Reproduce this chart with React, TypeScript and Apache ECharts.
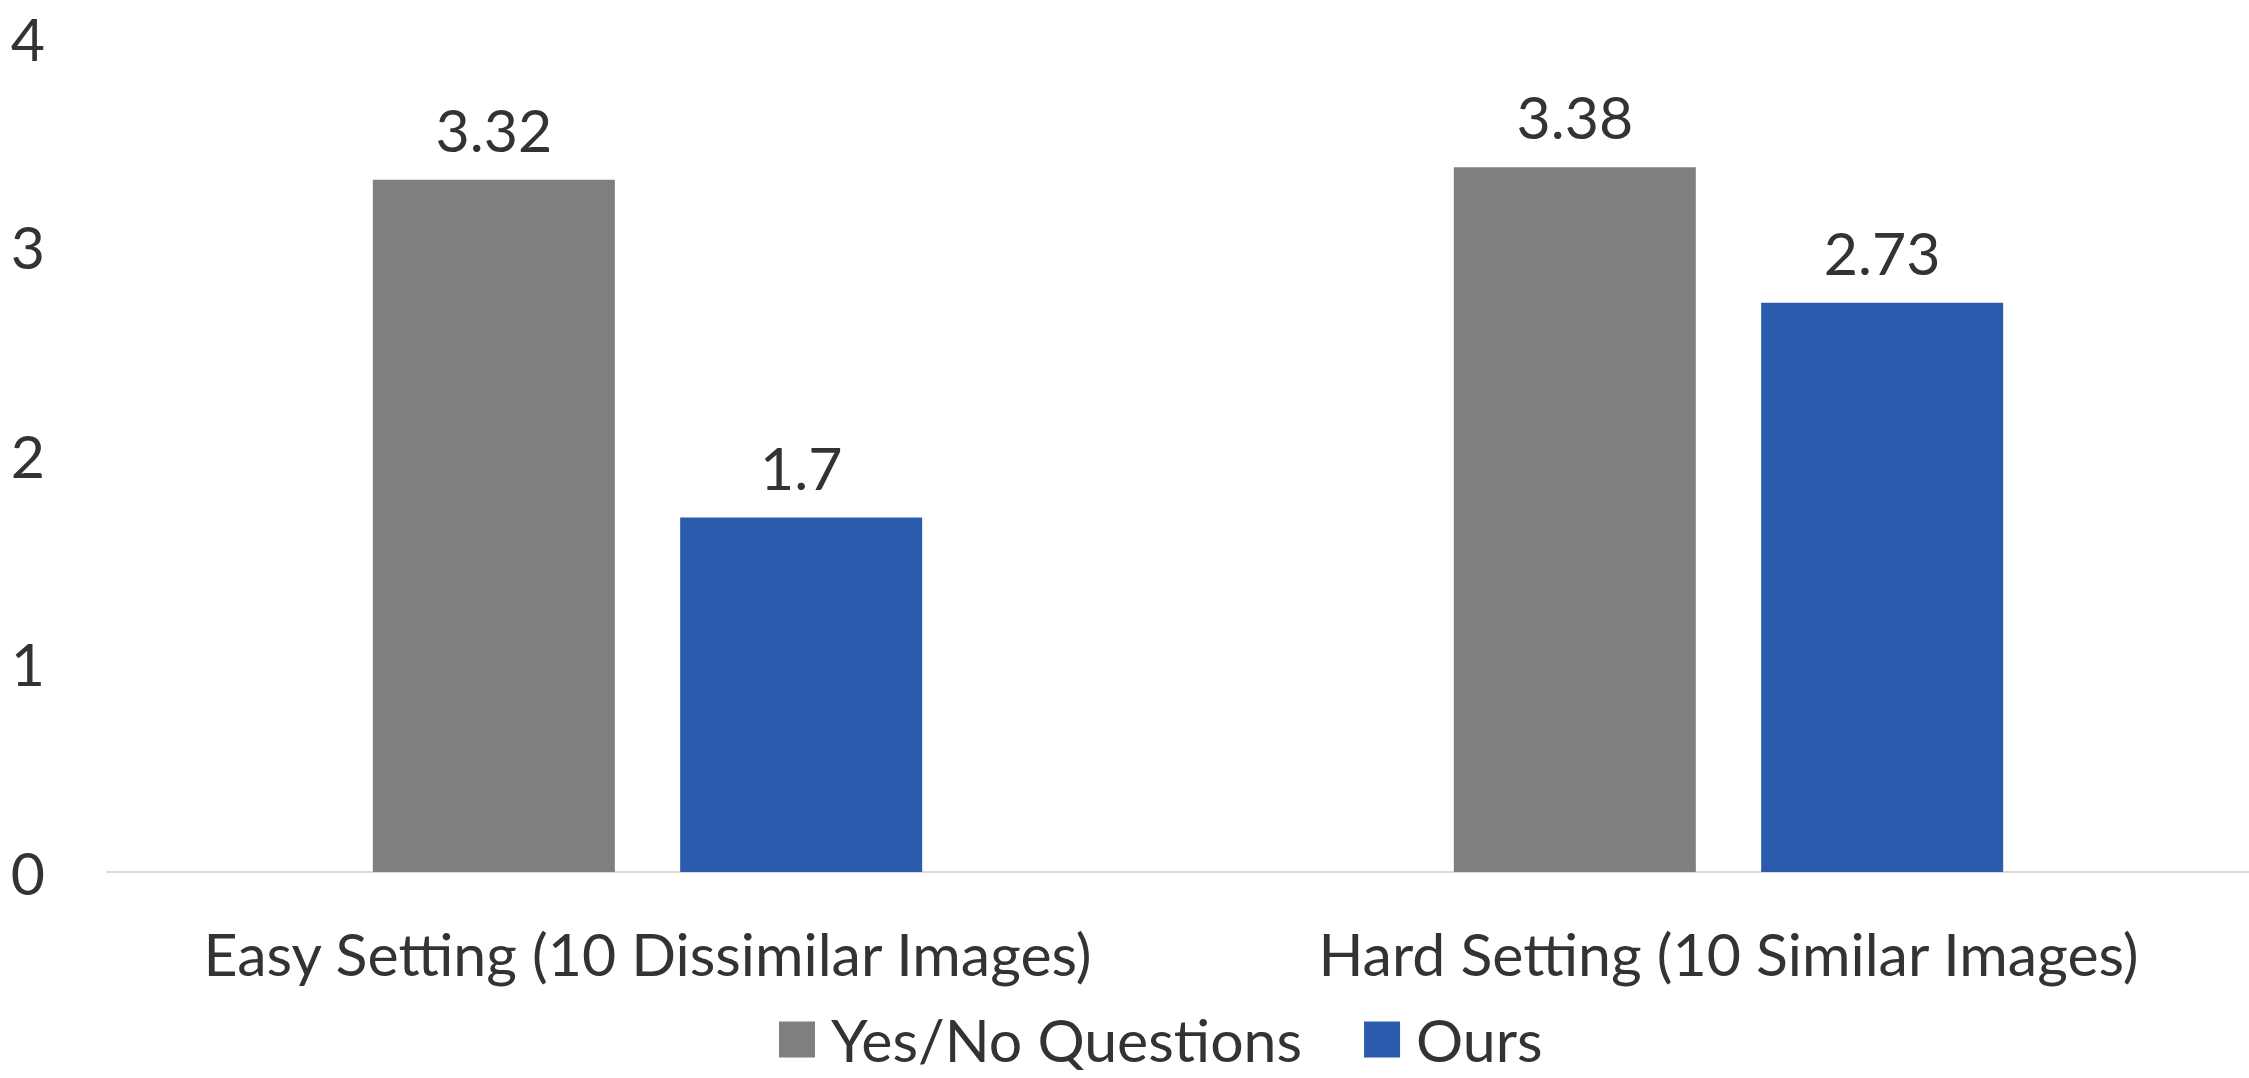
import React, { useEffect, useRef } from "react";
import * as echarts from "echarts";

// Scores per setting for each questioning method
const categories = [
  "Easy Setting (10 Dissimilar Images)",
  "Hard Setting (10 Similar Images)",
];
const yesNoScores = [3.32, 3.38];
const oursScores = [1.7, 2.73];
const seriesNames = ["Yes/No Questions", "Ours"];

const FONT = "Lato, 'Noto Sans', sans-serif";
const TEXT = "#333333";
const SIZE = 59;

export default function App() {
  const ref = useRef<HTMLDivElement>(null);

  useEffect(() => {
    document.body.style.margin = "0";
    document.body.style.overflow = "hidden";
    const chart = echarts.init(ref.current!, null, { renderer: "svg" });
    const labelStyle = {
      show: true,
      position: "top" as const,
      distance: 21,
      color: TEXT,
      fontFamily: FONT,
      fontSize: SIZE,
    };
    chart.setOption({
      animation: false,
      textStyle: { fontFamily: FONT },
      grid: {
        left: 107,
        top: 38,
        bottom: 206,
        width: 2162,
        containLabel: false,
        outerBoundsMode: "none",
      },
      legend: {
        top: 1010,
        left: 779,
        padding: 0,
        itemWidth: 36,
        itemHeight: 36,
        itemGap: 62,
        icon: "rect",
        textStyle: {
          color: TEXT,
          fontFamily: FONT,
          fontSize: SIZE,
          padding: [0, 0, 0, 11],
        },
        data: seriesNames,
      },
      xAxis: {
        type: "category",
        data: categories,
        axisLine: { lineStyle: { color: "#d9d9d9", width: 2 } },
        axisTick: { show: false },
        axisLabel: {
          color: TEXT,
          fontFamily: FONT,
          fontSize: SIZE,
          margin: 52,
          interval: 0,
        },
      },
      yAxis: {
        type: "value",
        min: 0,
        max: 4,
        interval: 1,
        splitLine: { show: false },
        axisLine: { show: false },
        axisTick: { show: false },
        axisLabel: {
          color: TEXT,
          fontFamily: FONT,
          fontSize: SIZE,
          margin: 62,
        },
      },
      series: [
        {
          name: seriesNames[0],
          type: "bar",
          data: yesNoScores,
          barWidth: 242,
          barGap: "27%",
          itemStyle: { color: "#7f7f7f" },
          label: labelStyle,
        },
        {
          name: seriesNames[1],
          type: "bar",
          data: oursScores,
          barWidth: 242,
          barGap: "27%",
          itemStyle: { color: "#2a5bad" },
          label: labelStyle,
        },
      ],
    });
    return () => chart.dispose();
  }, []);

  return <div ref={ref} style={{ width: 2249, height: 1078 }} />;
}
